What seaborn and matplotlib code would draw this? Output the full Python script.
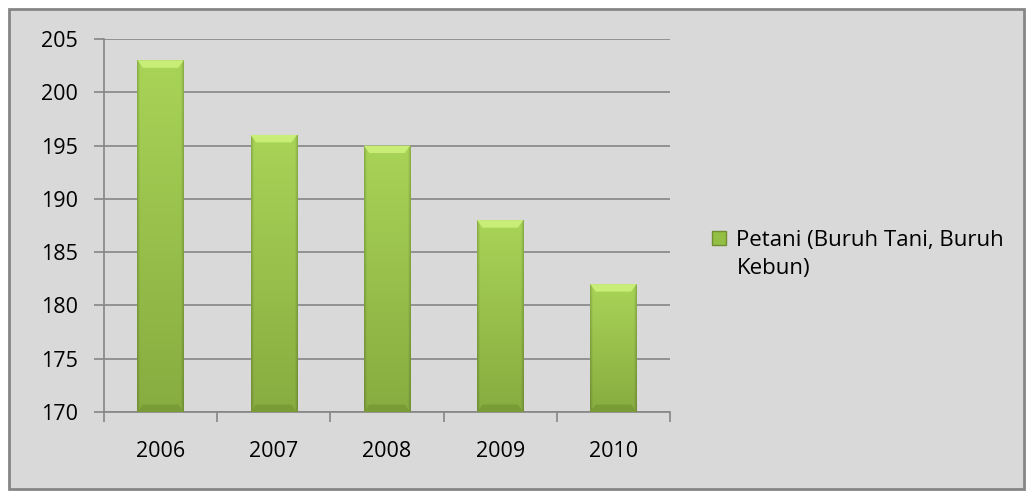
import numpy as np
import pandas as pd
import matplotlib
matplotlib.use("Agg")
import matplotlib.pyplot as plt
import seaborn as sns
from matplotlib.patches import Rectangle, Patch, Polygon
from matplotlib.colors import to_rgb

years = ["2006", "2007", "2008", "2009", "2010"]
values = [203, 196, 195, 188, 182]
series_line1 = "Petani (Buruh Tani, Buruh"
series_line2 = "Kebun)"
y_ticks = [170, 175, 180, 185, 190, 195, 200, 205]

sns.set_theme(style="white")
plt.rcParams['font.family'] = ['Open Sans', 'DejaVu Sans']

fig = plt.figure(figsize=(10.34, 4.98), dpi=100)
fig.patch.set_facecolor("white")
frame = Rectangle((9/1034, 9/498), (1024-9)/1034, (489-9)/498, transform=fig.transFigure,
                  facecolor="#d9d9d9", edgecolor="#868686", linewidth=2, zorder=-5)
fig.patches.append(frame)

ax = fig.add_axes([104/1034, 1-412/498, (670-104)/1034, (412-39)/498])
ax.set_facecolor("none")
ax.set_zorder(2)
df = pd.DataFrame({"year": years, "value": values})
sns.barplot(data=df, x="year", y="value", color="#9cc94c", width=0.41, ax=ax, zorder=3)

YMIN, YMAX = 170, 205
top_c = np.array(to_rgb("#a8d457"))
bot_c = np.array(to_rgb("#88ac40"))
nx, ny = 80, 300
for p in list(ax.patches):
    x0, y0 = p.get_x(), p.get_y()
    w, hh = p.get_width(), p.get_height()
    y1 = y0 + hh
    yb = max(y0, YMIN)
    ys = np.linspace(0, 1, ny)[:, None]
    xs = np.linspace(0, 1, nx)[None, :]
    base = bot_c[None, None, :] + (top_c - bot_c)[None, None, :] * ys[:, :, None]
    edge = np.minimum(xs, 1 - xs)
    shade = np.where(edge < 0.06, 0.82 + 3.0 * edge, 1.0)
    img = np.clip(base * shade[:, :, None], 0, 1)
    img = np.broadcast_to(img, (ny, nx, 3)).copy()
    im = ax.imshow(img, extent=[x0, x0 + w, yb, y1], origin="lower", aspect="auto", zorder=4,
                   interpolation="bilinear")
    im.set_clip_path(Rectangle((x0, yb), w, y1 - yb, transform=ax.transData))
    bev = 0.7
    dx = w * 0.12
    ax.add_patch(Polygon([(x0, y1), (x0 + w, y1), (x0 + w - dx, y1 - bev), (x0 + dx, y1 - bev)],
                         closed=True, facecolor="#c9ee78", edgecolor="none", zorder=5))
    ax.add_patch(Polygon([(x0, yb), (x0 + w, yb), (x0 + w - dx, yb + bev), (x0 + dx, yb + bev)],
                         closed=True, facecolor="#7a9c36", edgecolor="none", zorder=5))
    p.set_edgecolor("none")

ax.set_ylim(YMIN, YMAX)
ax.set_xlim(-0.5, 4.5)
ax.set_aspect("auto")
ax.set_yticks(y_ticks)
ax.yaxis.grid(True, color="#868686", linewidth=1.2, zorder=1)
ax.set_axisbelow(True)
ax.set_xlabel("")
ax.set_ylabel("")
for s in ["top", "right"]:
    ax.spines[s].set_visible(False)
for s in ["left", "bottom"]:
    ax.spines[s].set_color("#868686")
    ax.spines[s].set_linewidth(1.2)
ax.tick_params(axis="y", left=True, length=7, color="#868686", width=1.2, labelsize=15.5, pad=12, labelcolor="black")
ax.set_xticks(range(len(years)))
ax.set_xticklabels(years)
ax.set_xticks(np.arange(-0.5, 5.0, 1.0), minor=True)
ax.tick_params(axis="x", which="major", bottom=False, length=0, labelsize=15.5, pad=21, labelcolor="black")
ax.tick_params(axis="x", which="minor", bottom=True, length=7, color="#868686", width=1.2)

FS = 16
em = FS * 100 / 72
legend_handle = Patch(facecolor="#93bf45", edgecolor="#6f8f30", label=series_line1)
leg = fig.legend(handles=[legend_handle], loc="upper left", bbox_to_anchor=(712/1034, 1-230/498),
                 frameon=False, borderpad=0, borderaxespad=0, fontsize=FS,
                 handlelength=14/em, handleheight=14/em, handletextpad=10/em, labelcolor="black")
fig.text(737/1034, 1-274/498, series_line2, fontsize=FS, color="black", va="baseline", ha="left")

fig.savefig("out.png", dpi=100)
